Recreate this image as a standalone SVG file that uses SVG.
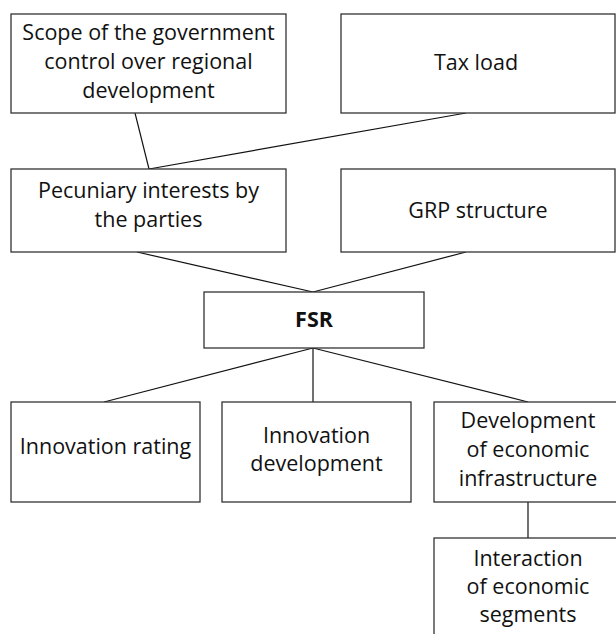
<svg xmlns="http://www.w3.org/2000/svg" width="616" height="634" viewBox="0 0 616 634">
<style>
.box{fill:#fff;stroke:#333;stroke-width:1.3}
.t{font-family:"Open Sans","Liberation Sans",sans-serif;font-size:21.5px;fill:#111;text-anchor:middle}
.b{font-weight:bold}
.c{stroke:#111;stroke-width:1.2;fill:none}
</style>
<rect width="616" height="634" fill="#fff"/>
<g id="connectors">
<line class="c" x1="135" y1="113" x2="149" y2="169"/>
<line class="c" x1="466" y1="113" x2="149" y2="169"/>
<line class="c" x1="137" y1="252" x2="313" y2="292"/>
<line class="c" x1="466" y1="252" x2="313" y2="292"/>
<line class="c" x1="313" y1="348" x2="104" y2="402"/>
<line class="c" x1="313" y1="348" x2="313" y2="402"/>
<line class="c" x1="313" y1="348" x2="528" y2="402"/>
<line class="c" x1="528" y1="502" x2="528" y2="538"/>
</g>
<g id="scope">
<rect class="box" x="11" y="14" width="275" height="99"/>
<text class="t" x="148.5" y="40">Scope of the government</text>
<text class="t" x="148.5" y="69">control over regional</text>
<text class="t" x="148.5" y="98">development</text>
</g>
<g id="taxload">
<rect class="box" x="341" y="14" width="274" height="99"/>
<text class="t" x="476" y="70">Tax load</text>
</g>
<g id="pecuniary">
<rect class="box" x="11" y="169" width="275" height="83"/>
<text class="t" x="148.5" y="198">Pecuniary interests by</text>
<text class="t" x="148.5" y="227">the parties</text>
</g>
<g id="grp">
<rect class="box" x="341" y="169" width="274" height="83"/>
<text class="t" x="478" y="218">GRP structure</text>
</g>
<g id="fsr">
<rect class="box" x="204" y="292" width="220" height="56"/>
<text class="t b" x="314" y="327">FSR</text>
</g>
<g id="innovation-rating">
<rect class="box" x="11" y="402" width="189" height="100"/>
<text class="t" x="105.5" y="454">Innovation rating</text>
</g>
<g id="innovation-development">
<rect class="box" x="222" y="402" width="189" height="100"/>
<text class="t" x="316.5" y="443">Innovation</text>
<text class="t" x="316.5" y="471">development</text>
</g>
<g id="economic-infrastructure">
<rect class="box" x="434" y="402" width="190" height="100"/>
<text class="t" x="528" y="428">Development</text>
<text class="t" x="528" y="457">of economic</text>
<text class="t" x="528" y="486">infrastructure</text>
</g>
<g id="interaction">
<rect class="box" x="434" y="538" width="190" height="110"/>
<text class="t" x="528" y="566">Interaction</text>
<text class="t" x="528" y="594">of economic</text>
<text class="t" x="528" y="622">segments</text>
</g>
</svg>
